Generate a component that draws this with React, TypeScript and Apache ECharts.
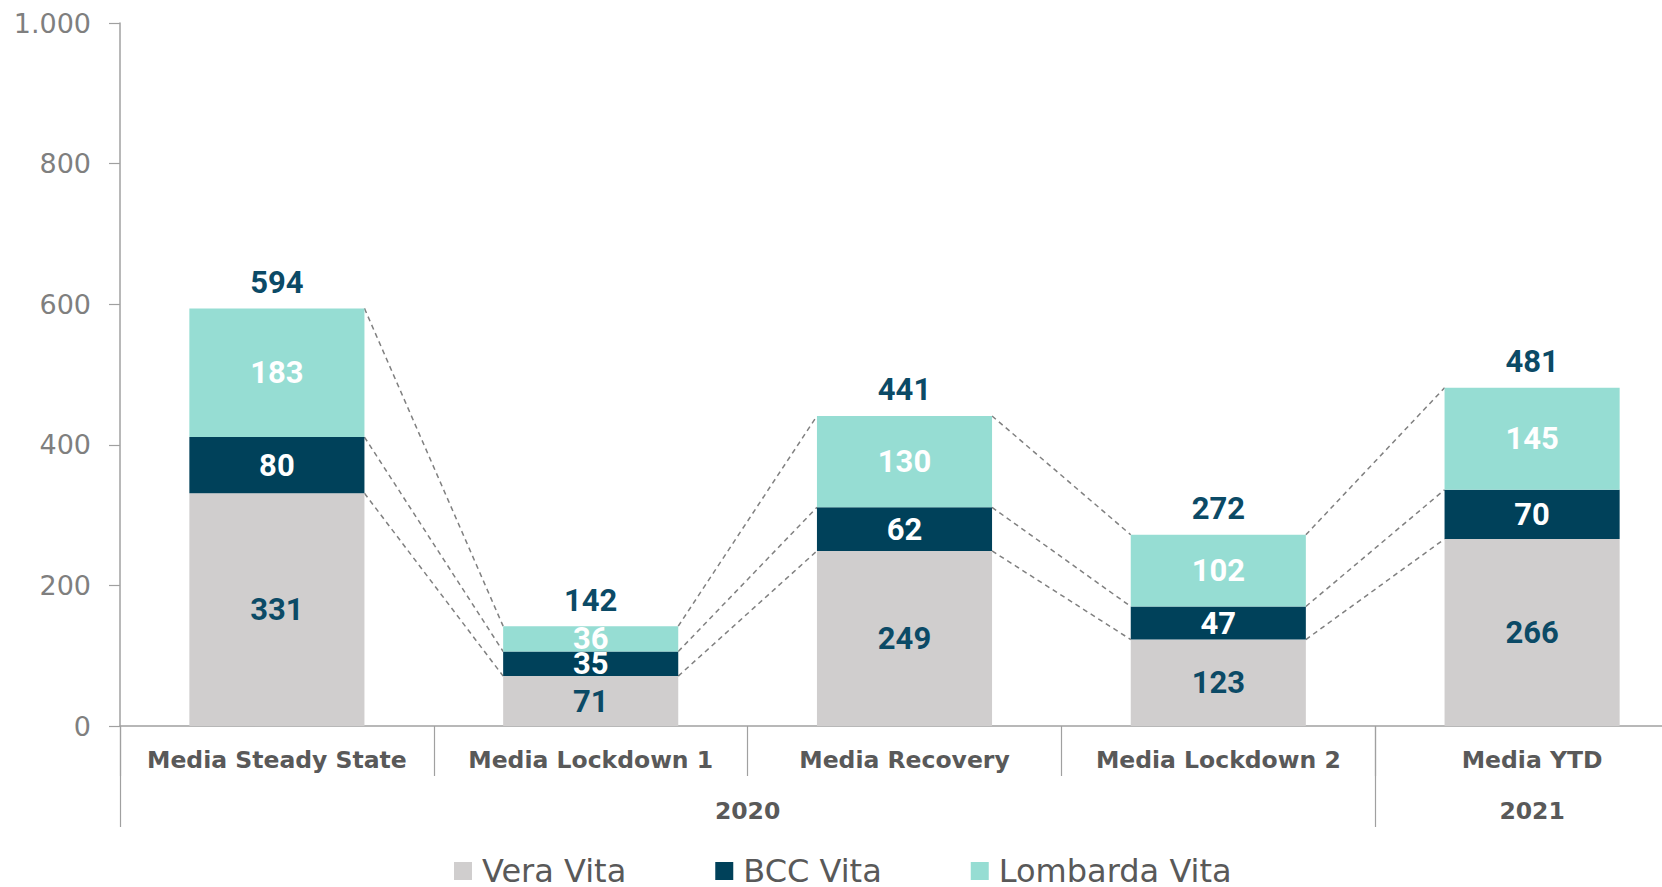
import React, { useEffect, useRef } from "react";
import * as echarts from "echarts";

const categories = ["Media Steady State", "Media Lockdown 1", "Media Recovery", "Media Lockdown 2", "Media YTD"];
const veraVita = [331, 71, 249, 123, 266];
const bccVita = [80, 35, 62, 47, 70];
const lombardaVita = [183, 36, 130, 102, 145];
const years = ["2020", "2021"];
const yearSpans = [4, 1];
const yTicks = [0, 200, 400, 600, 800, 1000];
const yTickLabels = ["0", "200", "400", "600", "800", "1.000"];

const C_GRAY = "#d0cece";
const C_DARK = "#00415a";
const C_MINT = "#96ddd3";
const C_LABEL_DARK = "#0b4a66";
const C_AXIS_TEXT = "#595959";

export default function App() {
  const ref = useRef<HTMLDivElement>(null);
  useEffect(() => {
    if (!ref.current) return;
    const chart = echarts.init(ref.current, null, { renderer: "svg" });

    const totals = categories.map((_, i) => veraVita[i] + bccVita[i] + lombardaVita[i]);
    const levels = [
      veraVita,
      veraVita.map((v, i) => v + bccVita[i]),
      totals,
    ];
    const connectors: number[][] = [];
    for (let i = 0; i < categories.length - 1; i++) {
      for (const lv of levels) connectors.push([i, lv[i], lv[i + 1]]);
    }

    const yearBounds: number[] = [0];
    const yearCenters: number[] = [];
    let acc = 0;
    yearSpans.forEach((s) => {
      yearCenters.push(acc + s / 2);
      acc += s;
      yearBounds.push(acc);
    });

    const BAR_W = 0.558;
    const labelFont = { fontFamily: "Roboto", fontWeight: "bold" as const, fontSize: 31 };

    chart.setOption({
      animation: false,
      grid: { left: 120, right: -27, top: 23, bottom: 161, outerBoundsMode: "none", containLabel: false },
      legend: {
        data: ["Vera Vita", "BCC Vita", "Lombarda Vita"],
        left: 454,
        top: 855,
        padding: 0,
        itemWidth: 18,
        itemHeight: 18,
        itemGap: 89,
        icon: "rect",
        textStyle: { fontFamily: "DejaVu Sans", fontSize: 32, color: C_AXIS_TEXT, padding: [0, 0, 0, 5] },
      },
      xAxis: [
        {
          type: "category",
          data: categories,
          position: "bottom",
          axisLine: { lineStyle: { color: "#a0a0a0", width: 1.5 } },
          axisTick: { show: true, interval: 0, length: 50, lineStyle: { color: "#a0a0a0", width: 1.2 } },
          axisLabel: {
            interval: 0,
            margin: 22,
            fontFamily: "DejaVu Sans",
            fontWeight: "bold",
            fontSize: 23.5,
            color: C_AXIS_TEXT,
          },
        },
        {
          type: "value",
          min: 0,
          max: categories.length,
          position: "bottom",
          axisLine: { show: false },
          splitLine: { show: false },
          axisTick: {
            show: true,
            length: 101,
            customValues: yearBounds.slice(0, yearBounds.length - 1),
            lineStyle: { color: "#a0a0a0", width: 1.2 },
          },
          axisLabel: {
            customValues: yearCenters,
            margin: 73,
            fontFamily: "DejaVu Sans",
            fontWeight: "bold",
            fontSize: 23.5,
            color: C_AXIS_TEXT,
            formatter: (v: number) => {
              const idx = yearCenters.findIndex((c) => Math.abs(c - v) < 1e-6);
              return idx >= 0 ? years[idx] : "";
            },
          },
        },
      ],
      yAxis: {
        type: "value",
        min: 0,
        max: 1000,
        interval: 200,
        axisLine: { show: true, onZero: false, lineStyle: { color: "#a0a0a0", width: 1.5 } },
        axisTick: { show: true, length: 11, lineStyle: { color: "#a0a0a0", width: 1.2 } },
        splitLine: { show: false },
        axisLabel: {
          margin: 29,
          fontFamily: "DejaVu Sans",
          fontSize: 27,
          color: "#7f7f7f",
          formatter: (v: number) => {
            const idx = yTicks.indexOf(v);
            return idx >= 0 ? yTickLabels[idx] : String(v);
          },
        },
      },
      series: [
        {
          name: "Vera Vita",
          type: "bar",
          stack: "total",
          barWidth: BAR_W * 100 + "%",
          data: veraVita,
          itemStyle: { color: C_GRAY },
          label: { show: true, position: "inside", color: C_LABEL_DARK, ...labelFont },
        },
        {
          name: "BCC Vita",
          type: "bar",
          stack: "total",
          barWidth: BAR_W * 100 + "%",
          data: bccVita,
          itemStyle: { color: C_DARK },
          label: { show: true, position: "inside", color: "#ffffff", ...labelFont },
        },
        {
          name: "Lombarda Vita",
          type: "bar",
          stack: "total",
          barWidth: BAR_W * 100 + "%",
          data: lombardaVita,
          itemStyle: { color: C_MINT },
          label: { show: true, position: "inside", color: "#ffffff", ...labelFont },
        },
        {
          name: "Totale",
          type: "line",
          data: totals,
          symbol: "circle",
          symbolSize: 1,
          itemStyle: { color: "transparent" },
          lineStyle: { width: 0, opacity: 0 },
          silent: true,
          label: { show: true, position: "top", distance: 10, color: C_LABEL_DARK, ...labelFont },
        },
        {
          name: "connectors",
          type: "custom",
          silent: true,
          data: connectors,
          encode: { x: 0, y: [1, 2] },
          renderItem: (params: any, api: any) => {
            const i = api.value(0);
            const p1 = api.coord([i, api.value(1)]);
            const p2 = api.coord([i + 1, api.value(2)]);
            const bw = api.size([1, 0])[0] * BAR_W;
            return {
              type: "line",
              shape: { x1: p1[0] + bw / 2, y1: p1[1], x2: p2[0] - bw / 2, y2: p2[1] },
              style: { stroke: "#808080", lineWidth: 1.5, lineDash: [5, 4] },
            };
          },
        },
      ],
    });
    return () => chart.dispose();
  }, []);
  return <div ref={ref} style={{ position: "absolute", left: 0, top: 0, width: 1662, height: 887 }} />;
}
